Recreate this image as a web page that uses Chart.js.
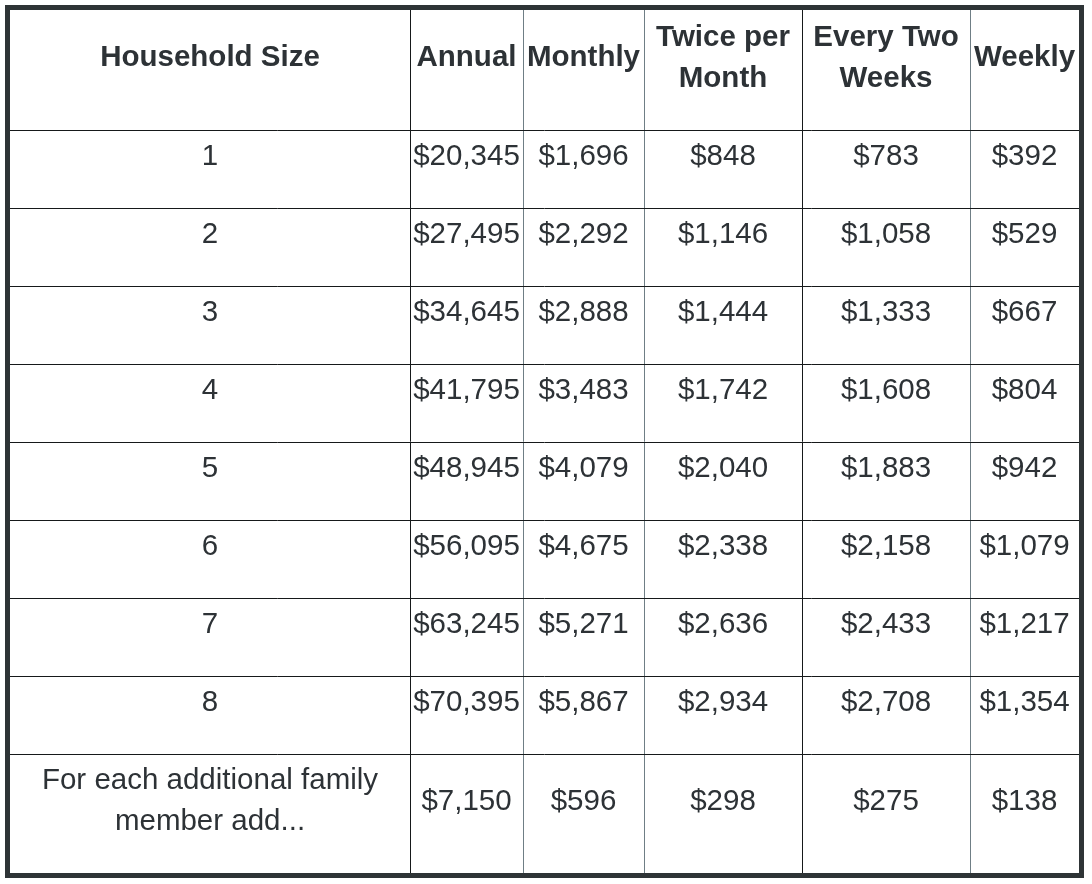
<!DOCTYPE html>
<html>
<head>
<meta charset="utf-8">
<title>Household Size Income Table</title>
<script src="https://cdn.jsdelivr.net/npm/chart.js@4.4.1/dist/chart.umd.min.js"></script>
<style>
  html, body { margin: 0; padding: 0; background: #ffffff; }
  #wrap { width: 1092px; height: 884px; position: relative; }
</style>
</head>
<body>
<div id="wrap"><canvas id="table-chart"></canvas></div>
<script>
// Table data
const columnHeaders = [
  ["Household Size"],
  ["Annual"],
  ["Monthly"],
  ["Twice per", "Month"],
  ["Every Two", "Weeks"],
  ["Weekly"],
];
const householdSizes = ["1", "2", "3", "4", "5", "6", "7", "8", "For each additional family member add..."];
const annual = [20345, 27495, 34645, 41795, 48945, 56095, 63245, 70395, 7150];
const monthly = [1696, 2292, 2888, 3483, 4079, 4675, 5271, 5867, 596];
const twicePerMonth = [848, 1146, 1444, 1742, 2040, 2338, 2636, 2934, 298];
const everyTwoWeeks = [783, 1058, 1333, 1608, 1883, 2158, 2433, 2708, 275];
const weekly = [392, 529, 667, 804, 942, 1079, 1217, 1354, 138];

// Layout of the grid (in scale units)
const columnEdges = [0, 400, 513, 634, 792, 960, 1069];
const rowEdges = [0, 120, 198, 276, 354, 432, 510, 588, 666, 744, 863];
const darkLines = [400, 792];

const FONT_FAMILY = "'Liberation Sans', Arial, Helvetica, sans-serif";
const TEXT_COLOR = "#2d3236";
const FONT_SIZE = 29.5;
const LINE_HEIGHT = 41;
const TEXT_LIFT = 12;

function money(v) {
  return "$" + v.toLocaleString("en-US");
}

function center(edges, i) {
  return (edges[i] + edges[i + 1]) / 2;
}

// build one scatter dataset per column, header cell first
const bodyColumns = [
  householdSizes,
  annual.map(money),
  monthly.map(money),
  twicePerMonth.map(money),
  everyTwoWeeks.map(money),
  weekly.map(money),
];

const datasets = bodyColumns.map((col, c) => {
  const points = [{ x: center(columnEdges, c), y: center(rowEdges, 0), lines: columnHeaders[c], bold: true }];
  col.forEach((text, r) => {
    points.push({ x: center(columnEdges, c), y: center(rowEdges, r + 1), text, bold: false });
  });
  return {
    label: columnHeaders[c].join(" "),
    data: points,
    pointRadius: 0,
    pointHoverRadius: 0,
    showLine: false,
  };
});

function wrapText(ctx, text, maxWidth) {
  const words = text.split(" ");
  const lines = [];
  let line = "";
  words.forEach((w) => {
    const test = line ? line + " " + w : w;
    if (ctx.measureText(test).width > maxWidth && line) {
      lines.push(line);
      line = w;
    } else {
      line = test;
    }
  });
  if (line) lines.push(line);
  return lines;
}

// draws the text of every cell at its point
const cellTextPlugin = {
  id: "cellText",
  afterDatasetsDraw(chart) {
    const ctx = chart.ctx;
    const xScale = chart.scales.x;
    ctx.save();
    ctx.fillStyle = TEXT_COLOR;
    ctx.textAlign = "center";
    ctx.textBaseline = "middle";
    chart.data.datasets.forEach((ds, c) => {
      const meta = chart.getDatasetMeta(c);
      const cellWidth = xScale.getPixelForValue(columnEdges[c + 1]) - xScale.getPixelForValue(columnEdges[c]);
      meta.data.forEach((el, i) => {
        const raw = ds.data[i];
        ctx.font = (raw.bold ? "bold " : "") + FONT_SIZE + "px " + FONT_FAMILY;
        const lines = raw.lines || wrapText(ctx, raw.text, cellWidth - 24);
        const startY = el.y - TEXT_LIFT - ((lines.length - 1) * LINE_HEIGHT) / 2;
        lines.forEach((ln, k) => {
          ctx.fillText(ln, el.x, startY + k * LINE_HEIGHT);
        });
      });
    });
    ctx.restore();
  },
};

// thick outer frame of the table
const framePlugin = {
  id: "frame",
  afterDraw(chart) {
    const { left, top, width, height } = chart.chartArea;
    const ctx = chart.ctx;
    ctx.save();
    ctx.strokeStyle = "#2e3436";
    ctx.lineWidth = 5;
    ctx.strokeRect(left - 2.5, top - 2.5, width + 5, height + 5);
    ctx.restore();
  },
};

const ctx = document.getElementById("table-chart").getContext("2d");
new Chart(ctx, {
  type: "scatter",
  data: { datasets },
  plugins: [cellTextPlugin, framePlugin],
  options: {
    responsive: true,
    maintainAspectRatio: false,
    animation: false,
    events: [],
    layout: {
      padding: { left: 10, top: 10, right: 13, bottom: 11 },
    },
    plugins: {
      legend: { display: false },
      tooltip: { enabled: false },
    },
    scales: {
      x: {
        type: "linear",
        min: columnEdges[0],
        max: columnEdges[columnEdges.length - 1],
        afterBuildTicks: (scale) => {
          scale.ticks = columnEdges.slice(1, -1).map((v) => ({ value: v }));
        },
        ticks: { display: false },
        border: { display: false },
        grid: {
          drawTicks: false,
          lineWidth: 1,
          color: (c) => (c.tick && darkLines.includes(c.tick.value) ? "#16191a" : "#6f7e85"),
        },
      },
      y: {
        type: "linear",
        reverse: true,
        min: rowEdges[0],
        max: rowEdges[rowEdges.length - 1],
        afterBuildTicks: (scale) => {
          scale.ticks = rowEdges.slice(1, -1).map((v) => ({ value: v }));
        },
        ticks: { display: false },
        border: { display: false },
        grid: {
          drawTicks: false,
          lineWidth: 1,
          color: "#16191a",
        },
      },
    },
  },
});
</script>
</body>
</html>
